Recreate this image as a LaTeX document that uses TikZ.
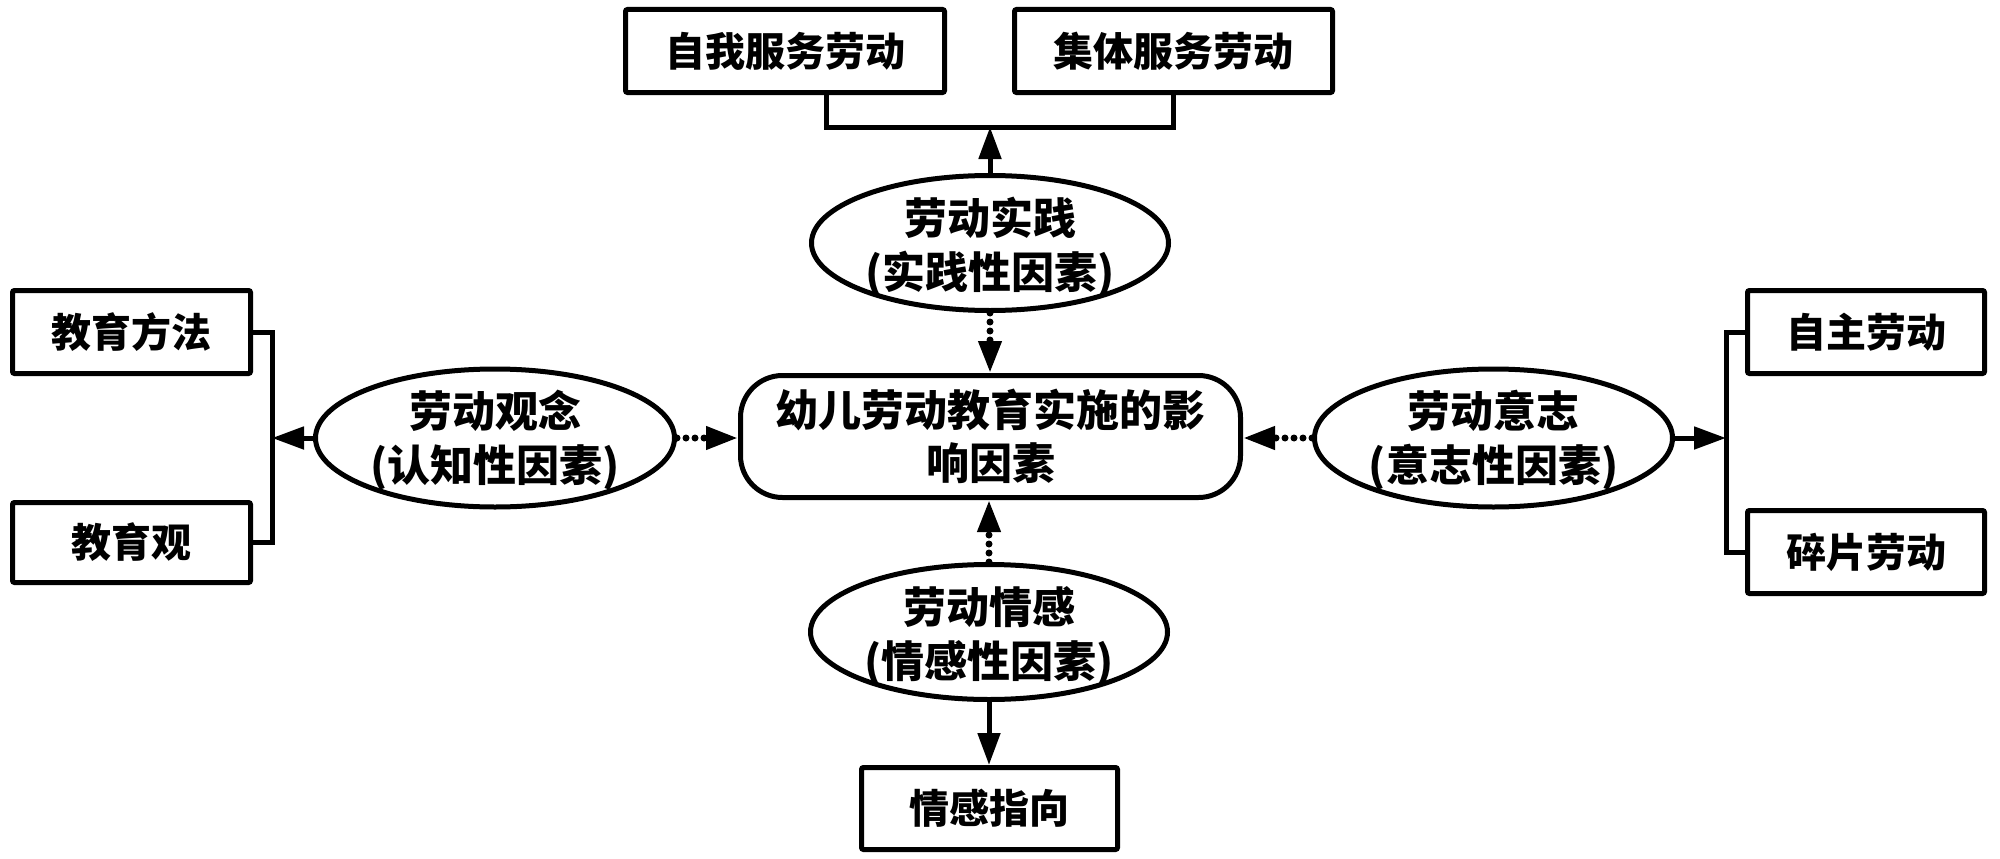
\documentclass[tikz,border=0pt]{standalone}
\usepackage{fontspec}
\newfontfamily\cjk{Noto Sans CJK SC}
\usetikzlibrary{arrows.meta,shapes.geometric}
\begin{document}
\begin{tikzpicture}[x=1pt,y=-1pt,
  boxnode/.style={draw, line width=5pt, rounded corners=2pt, minimum height=83pt, inner sep=0pt,
    font=\cjk\bfseries\fontsize{40}{50}\selectfont},
  ellnode/.style={draw, ellipse, line width=5pt, inner sep=0pt},
  elltext/.style={align=center, inner sep=0pt, font=\cjk\bfseries\fontsize{43}{54}\selectfont},
  centernode/.style={draw, line width=5pt, rounded corners=42pt, minimum width=500pt, minimum height=122pt,
    align=center, inner sep=0pt, font=\cjk\bfseries\fontsize{43}{53}\selectfont},
  link/.style={line width=5pt},
  arr/.style={line width=5pt, -{Triangle[length=32pt,width=22pt]}},
  dotarr/.style={line width=7pt, line cap=round, dash pattern=on 0pt off 9pt, -{Triangle[length=32pt,width=22pt]}}
]
\useasboundingbox (0,0) rectangle (2000,859);

% central node
\node[centernode] (hub) at (990.5,436.5) {幼儿劳动教育实施的影\\响因素};

% top
\node[boxnode, minimum width=319pt] (self) at (785,51) {自我服务劳动};
\node[boxnode, minimum width=318pt] (jiti) at (1173.5,51) {集体服务劳动};
\node[ellnode, minimum width=357pt, minimum height=135pt] (shijian) at (990,243) {};
\node[elltext] (shijiantxt) at (990,247) {劳动实践\\(实践性因素)};
\coordinate (topbar) at (990,127);

% left
\node[boxnode, minimum width=238pt] (fangfa) at (131.5,332) {教育方法};
\node[boxnode, minimum width=238pt, minimum height=80pt] (jiaoyuguan) at (131.5,542.5) {教育观};
\node[ellnode, minimum width=359pt, minimum height=138pt] (guannian) at (495,438) {};
\node[elltext] (guanniantxt) at (495,440) {劳动观念\\(认知性因素)};
\coordinate (lbar) at (272,438);

% right
\node[boxnode, minimum width=237pt] (zizhu) at (1866,332) {自主劳动};
\node[boxnode, minimum width=237pt] (suipian) at (1866,552) {碎片劳动};
\node[ellnode, minimum width=358pt, minimum height=138pt] (yizhi) at (1493.5,438) {};
\node[elltext] (yizhitxt) at (1493.5,440) {劳动意志\\(意志性因素)};
\coordinate (rbar) at (1726,438);

% bottom
\node[ellnode, minimum width=357pt, minimum height=135pt] (qinggan) at (989,632) {};
\node[elltext] (qinggantxt) at (989,636) {劳动情感\\(情感性因素)};
\node[boxnode, minimum width=256pt, minimum height=82pt] (zhixiang) at (989.5,808.5) {情感指向};

% top connectors
\draw[link] ([xshift=41pt]self.south) -- ([xshift=41pt]self.south |- topbar) -| (jiti.south);
\draw[arr] (shijian.north) -- (topbar);
\draw[dotarr] (shijian.south) -- (shijian.south |- hub.north);

% left connectors
\draw[link] (fangfa.east) -- (fangfa.east -| lbar) -- (jiaoyuguan.east -| lbar) -- (jiaoyuguan.east);
\draw[arr] (guannian.west) -- (lbar);
\draw[dotarr] (guannian.east) -- (guannian.east -| hub.west);

% right connectors
\draw[link] (zizhu.west) -- (zizhu.west -| rbar) -- (suipian.west -| rbar) -- (suipian.west);
\draw[arr] (yizhi.east) -- (rbar);
\draw[dotarr] (yizhi.west) -- (yizhi.west -| hub.east);

% bottom connectors
\draw[dotarr] (qinggan.north) -- (qinggan.north |- hub.south);
\draw[arr] (qinggan.south) -- (qinggan.south |- zhixiang.north);
\end{tikzpicture}
\end{document}
